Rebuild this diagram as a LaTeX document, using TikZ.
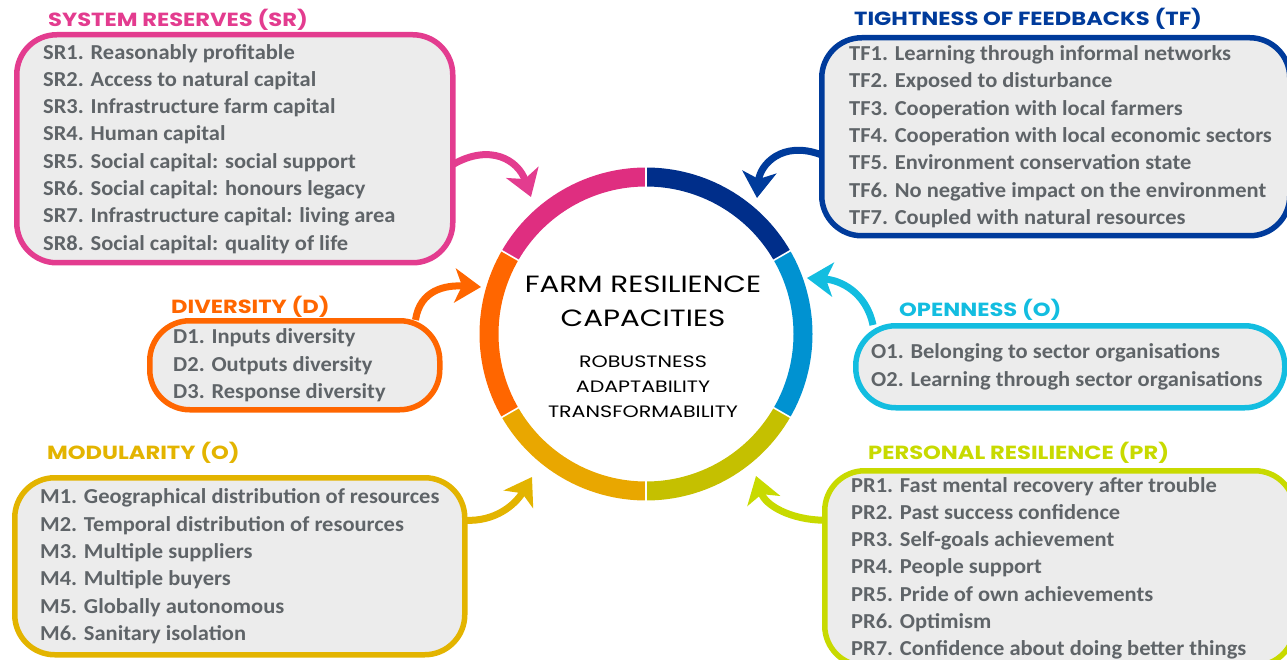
\documentclass[tikz,border=0pt]{standalone}
\usepackage{fontspec}
\setmainfont{Carlito}[FakeStretch=1.055]
\newfontfamily\titlefont{Poppins}[FakeStretch=1.19]
\newfontfamily\corefont{Poppins}[FakeStretch=1.25]
\usetikzlibrary{arrows.meta,calc}

% palette
\definecolor{srcol}{HTML}{E33C8F}
\definecolor{srring}{HTML}{DF2E80}
\definecolor{tfcol}{HTML}{003B9B}
\definecolor{tfring}{HTML}{002E8A}
\definecolor{ocol}{HTML}{13BDE0}
\definecolor{oring}{HTML}{0092D1}
\definecolor{dcol}{HTML}{FF6600}
\definecolor{mcol}{HTML}{E3B400}
\definecolor{mring}{HTML}{E9A700}
\definecolor{prcol}{HTML}{C8DA00}
\definecolor{prring}{HTML}{C5C000}
\definecolor{boxgray}{HTML}{ECECEC}
\definecolor{itemgray}{HTML}{5F6468}

\tikzset{
  panel/.style={draw=#1, fill=boxgray, line width=5.5pt, rounded corners=40pt,
    inner sep=0pt, anchor=north west},
  items/.style={anchor=west, align=left, inner sep=0pt, text=itemgray,
    font=\fontsize{21.3}{27.3}\selectfont\bfseries},
  heading/.style={anchor=west, inner sep=0pt, text=#1,
    font=\titlefont\fontsize{19}{20}\selectfont\bfseries},
  feed/.style={draw=#1, line width=7pt,
    -{Stealth[length=26pt, width=34pt, inset=7pt]}},
  segment/.style={line width=19pt, draw=#1},
}

\begin{document}
\begin{tikzpicture}[x=1pt, y=-1pt]
\useasboundingbox (0,0) rectangle (1287,660);
\clip (0,0) rectangle (1287,660);

% ---------- central ring ----------
\coordinate (core) at (646,334);
\def\R{157}
\draw[segment=tfring] ($(core)+(-90:\R)$) arc[start angle=-90, end angle=-30, radius=\R];
\draw[segment=oring]  ($(core)+(-30:\R)$) arc[start angle=-30, end angle=30,  radius=\R];
\draw[segment=prring] ($(core)+(30:\R)$)  arc[start angle=30,  end angle=90,  radius=\R];
\draw[segment=mring]  ($(core)+(90:\R)$)  arc[start angle=90,  end angle=150, radius=\R];
\draw[segment=dcol]   ($(core)+(150:\R)$) arc[start angle=150, end angle=210, radius=\R];
\draw[segment=srring] ($(core)+(210:\R)$) arc[start angle=210, end angle=270, radius=\R];
\foreach \a in {-90,-30,30,90,150,210}
  \draw[white, line width=1.6pt] ($(core)+(\a:146)$) -- ($(core)+(\a:168)$);

\node[font=\corefont\fontsize{23.5}{34}\selectfont, align=center, inner sep=0pt]
  (capacities) at (643,301) {FARM RESILIENCE\\CAPACITIES};
\node[font=\corefont\fontsize{16.5}{25}\selectfont, align=center, inner sep=0pt]
  (kinds) at (643,387) {ROBUSTNESS\\ADAPTABILITY\\TRANSFORMABILITY};

% ---------- attribute panels ----------
\node[panel=srcol, minimum width=436pt, minimum height=228pt] (srbox) at (14,32) {};
\node[items] (srtext) at ([xshift=29pt]srbox.west) {%
SR1. Reasonably profitable\\
SR2. Access to natural capital\\
SR3. Infrastructure farm capital\\
SR4. Human capital\\
SR5. Social capital: social support\\
SR6. Social capital: honours legacy\\
SR7. Infrastructure capital: living area\\
SR8. Social capital: quality of life};
\node[heading=srcol] (srtitle) at (48,20) {SYSTEM RESERVES (SR)};

\node[panel=tfcol, minimum width=468pt, minimum height=198pt] (tfbox) at (819,35) {};
\node[items] (tftext) at ([xshift=30pt]tfbox.west) {%
TF1. Learning through informal networks\\
TF2. Exposed to disturbance\\
TF3. Cooperation with local farmers\\
TF4. Cooperation with local economic sectors\\
TF5. Environment conservation state\\
TF6. No negative impact on the environment\\
TF7. Coupled with natural resources};
\node[heading=tfcol] (tftitle) at (854,19) {TIGHTNESS OF FEEDBACKS (TF)};

\node[panel=dcol, minimum width=290pt, minimum height=89pt] (dbox) at (147,318) {};
\node[items] (dtext) at ([xshift=26pt]dbox.west) {%
D1. Inputs diversity\\
D2. Outputs diversity\\
D3. Response diversity};
\node[heading=dcol] (dtitle) at (171,307) {DIVERSITY (D)};

\node[panel=ocol, minimum width=429pt, minimum height=82pt] (obox) at (853,323) {};
\node[items] (otext) at ([xshift=18pt]obox.west) {%
O1. Belonging to sector organisations\\
O2. Learning through sector organisations};
\node[heading=ocol] (otitle) at (899,310) {OPENNESS (O)};

\node[panel=mcol, minimum width=450pt, minimum height=177pt] (mbox) at (12,475) {};
\node[items] (mtext) at ([xshift=28pt]mbox.west) {%
M1. Geographical distribution of resources\\
M2. Temporal distribution of resources\\
M3. Multiple suppliers\\
M4. Multiple buyers\\
M5. Globally autonomous\\
M6. Sanitary isolation};
\node[heading=mcol] (mtitle) at (47,453) {MODULARITY (O)};

\node[panel=prcol, minimum width=470pt, minimum height=195pt] (prbox) at (822,468) {};
\node[items] (prtext) at ([xshift=29pt]prbox.west) {%
PR1. Fast mental recovery after trouble\\
PR2. Past success confidence\\
PR3. Self-goals achievement\\
PR4. People support\\
PR5. Pride of own achievements\\
PR6. Optimism\\
PR7. Confidence about doing better things};
\node[heading=prcol] (prtitle) at (868,453) {PERSONAL RESILIENCE (PR)};

% ---------- arrows into the ring ----------
\coordinate (srtip) at (531,197);
\coordinate (tftip) at (757,198);
\coordinate (dtip)  at (481,287);
\coordinate (otip)  at (807,278);
\coordinate (mtip)  at (532,477);
\coordinate (prtip) at (756,476);

\draw[feed=srcol] ($(srbox.east)+(-3,16)$) .. controls (490,143) and (518,160) .. (srtip);
\draw[feed=tfcol] ($(tfbox.west)+(2,18)$) .. controls (782,140) and (760,165) .. (tftip);
\draw[feed=dcol]  ($(dbox.north east)+(-27,2)$) .. controls (420,290) and (445,285) .. (dtip);
\draw[feed=ocol]  ($(obox.north west)+(20,2)$) .. controls (866,292) and (840,280) .. (otip);
\draw[feed=mcol]  ($(mbox.east)+(-3,-46)$) .. controls (495,522) and (515,505) .. (mtip);
\draw[feed=prcol] ($(prbox.west)+(3,-48)$) .. controls (790,520) and (765,505) .. (prtip);
\end{tikzpicture}
\end{document}
